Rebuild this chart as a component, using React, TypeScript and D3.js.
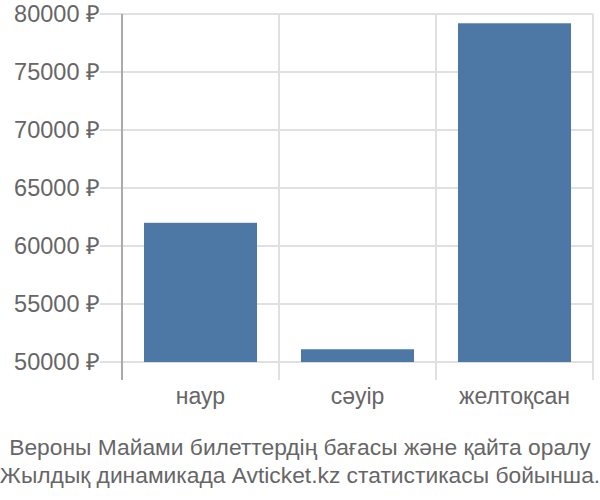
import React from 'react';
import * as d3 from 'd3';

const months = ['наур', 'сәуір', 'желтоқсан'];
const prices = [62000, 51100, 79200];
const yTicks = [50000, 55000, 60000, 65000, 70000, 75000, 80000];
const titleLines = [
  'Вероны Майами билеттердің бағасы және қайта оралу',
  'Жылдық динамикада Avticket.kz статистикасы бойынша.',
];

const W = 600;
const H = 500;
const left = 122;
const right = 593;
const top = 14;
const bottom = 380;

const App = () => {
  const x = d3.scaleBand<string>().domain(months).range([left, right]).paddingInner(0.28).paddingOuter(0.14);
  const y = d3.scaleLinear().domain([48450, 80000]).range([bottom, top]);
  const base = y(50000);
  const font = '"Liberation Sans", Arial, sans-serif';

  return (
    <svg width={W} height={H} style={{ position: 'absolute', left: 0, top: 0 }} fontFamily={font}>
      {yTicks.map((t) => (
        <g key={t}>
          <line x1={100} x2={right} y1={y(t)} y2={y(t)} stroke="#e0e0e0" strokeWidth={2} />
          <text x={100} y={y(t)} dy="0.35em" textAnchor="end" fontSize={23.5} fill="#666">
            {t} ₽
          </text>
        </g>
      ))}
      {months.map((m, i) => (
        <line key={m} x1={left + (i + 1) * x.step()} x2={left + (i + 1) * x.step()} y1={top} y2={bottom} stroke="#e0e0e0" strokeWidth={2} />
      ))}
      <line x1={left} x2={left} y1={top} y2={bottom} stroke="#aaa" strokeWidth={2} />
      {months.map((m, i) => (
        <rect key={m} x={x(m)} y={y(prices[i])} width={x.bandwidth()} height={base - y(prices[i])} fill="#4d78a5" />
      ))}
      {months.map((m) => (
        <text key={m} x={(x(m) ?? 0) + x.bandwidth() / 2} y={404} textAnchor="middle" fontSize={23} fill="#666">
          {m}
        </text>
      ))}
      {titleLines.map((l, i) => (
        <text key={i} x={W / 2} y={455 + i * 28} textAnchor="middle" fontSize={22.8} fill="#666">
          {l}
        </text>
      ))}
    </svg>
  );
};

export default App;
